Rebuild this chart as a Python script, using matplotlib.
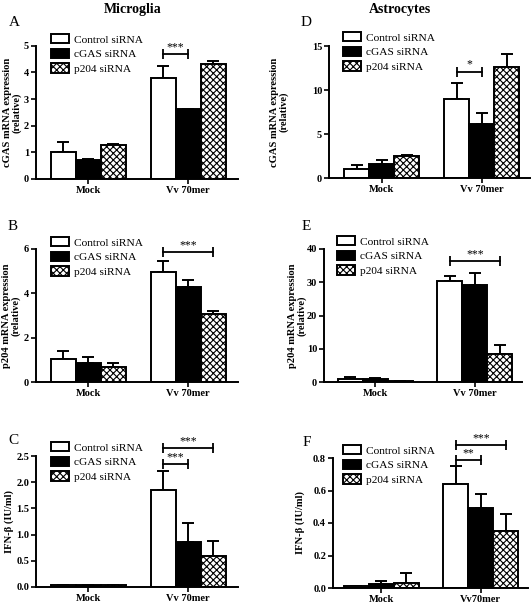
import matplotlib
matplotlib.use("Agg")
import matplotlib.pyplot as plt
import numpy as np

plt.rcParams['font.family'] = ['Liberation Serif', 'DejaVu Serif']
plt.rcParams['hatch.linewidth'] = 0.8

groups = ['Mock', 'Vv 70mer']
series = ['Control siRNA', 'cGAS siRNA', 'p204 siRNA']

# means per series: [Mock, Vv 70mer]
a_mean = {'Control siRNA': [1.03, 3.80], 'cGAS siRNA': [0.72, 2.62], 'p204 siRNA': [1.27, 4.33]}
a_err = {'Control siRNA': [0.36, 0.43], 'cGAS siRNA': [0.03, 0.02], 'p204 siRNA': [0.05, 0.09]}
b_mean = {'Control siRNA': [1.04, 4.98], 'cGAS siRNA': [0.84, 4.27], 'p204 siRNA': [0.69, 3.07]}
b_err = {'Control siRNA': [0.35, 0.46], 'cGAS siRNA': [0.29, 0.34], 'p204 siRNA': [0.17, 0.14]}
c_mean = {'Control siRNA': [0.04, 1.85], 'cGAS siRNA': [0.04, 0.85], 'p204 siRNA': [0.04, 0.60]}
c_err = {'Control siRNA': [0.0, 0.36], 'cGAS siRNA': [0.0, 0.37], 'p204 siRNA': [0.0, 0.27]}
d_mean = {'Control siRNA': [1.05, 9.00], 'cGAS siRNA': [1.62, 6.17], 'p204 siRNA': [2.45, 12.57]}
d_err = {'Control siRNA': [0.48, 1.76], 'cGAS siRNA': [0.45, 1.26], 'p204 siRNA': [0.22, 1.53]}
e_mean = {'Control siRNA': [0.9, 30.5], 'cGAS siRNA': [1.0, 29.2], 'p204 siRNA': [0.2, 8.5]}
e_err = {'Control siRNA': [0.7, 1.4], 'cGAS siRNA': [0.1, 3.6], 'p204 siRNA': [0.05, 2.7]}
f_mean = {'Control siRNA': [0.010, 0.64], 'cGAS siRNA': [0.022, 0.49], 'p204 siRNA': [0.033, 0.35]}
f_err = {'Control siRNA': [0.005, 0.11], 'cGAS siRNA': [0.02, 0.09], 'p204 siRNA': [0.06, 0.105]}

# significance brackets: (bar index from, bar index to, y, label)
a_sig = [(0, 1, 4.7, '***')]
b_sig = [(0, 2, 5.85, '***')]
c_sig = [(0, 1, 2.35, '***'), (0, 2, 2.66, '***')]
d_sig = [(0, 1, 12.1, '*')]
e_sig = [(0, 2, 36.4, '***')]
f_sig = [(0, 1, 0.785, '**'), (0, 2, 0.88, '***')]

W, H = 532, 605
fig = plt.figure(figsize=(W / 100, H / 100), dpi=100)

styles = {
    'Control siRNA': dict(color='white', hatch=None),
    'cGAS siRNA': dict(color='black', hatch=None),
    'p204 siRNA': dict(color='white', hatch='xxxxx'),
}


def panel(rect, xlim, mean, err, sig, ylim, yticks, ylabel, ylab_x, letter,
          letter_xy, leg_xy, xlabels):
    l, t, r, b = rect
    ax = fig.add_axes([l / W, 1 - b / H, (r - l) / W, (b - t) / H])
    for k, s in enumerate(series):
        x = np.array([0, 4]) + k
        ax.bar(x, mean[s], width=1.0, edgecolor='black', linewidth=1.4,
               label=s, zorder=2, **styles[s])
        ax.errorbar(x, mean[s], yerr=[np.zeros(2), err[s]], fmt='none',
                    ecolor='black', elinewidth=1.4, capsize=4, capthick=1.4,
                    zorder=1)
    for i, j, y, txt in sig:
        ax.plot([4 + i, 4 + j], [y, y], color='black', lw=1.3, marker='|',
                markersize=7, markeredgewidth=1.3, clip_on=False)
        ax.annotate(txt, ((8 + i + j) / 2, y), xytext=(0, 0.5),
                    textcoords='offset points', ha='center', va='bottom',
                    fontsize=8.5, annotation_clip=False)
    ax.set_xlim(*xlim)
    ax.set_ylim(*ylim)
    ax.set_yticks(yticks)
    ax.set_xticks([1, 5])
    ax.set_xticklabels(xlabels)
    ax.spines['top'].set_visible(False)
    ax.spines['right'].set_visible(False)
    ax.spines['left'].set_linewidth(1.4)
    ax.spines['bottom'].set_linewidth(1.4)
    ax.tick_params(width=1.2, length=3.5, labelsize=7.5, pad=1.5)
    for lab in ax.get_xticklabels() + ax.get_yticklabels():
        lab.set_fontweight('bold')
    ax.set_ylabel(ylabel, fontsize=7.6, fontweight='bold', linespacing=1.0)
    ax.yaxis.label.set_va('center')
    ax.yaxis.set_label_coords((ylab_x - l) / (r - l), 0.5)
    ax.legend(loc='upper left', bbox_to_anchor=(leg_xy[0] / W, 1 - leg_xy[1] / H),
              bbox_transform=fig.transFigure, frameon=False, fontsize=8.2,
              borderpad=0, borderaxespad=0, handlelength=1.55, handleheight=0.9,
              handletextpad=0.5, labelspacing=0.35)
    fig.text(letter_xy[0] / W, 1 - letter_xy[1] / H, letter, fontsize=11,
             ha='center', va='center')
    return ax


cgas_lab = 'cGAS mRNA expression\n(relative)'
p204_lab = 'p204 mRNA expression\n(relative)'
ifn_lab = 'IFN-β (IU/ml)'

panel((36, 45.7, 238, 179), (-1.1, 7.0), a_mean, a_err, a_sig, (0, 5),
      [0, 1, 2, 3, 4, 5], cgas_lab, 12, 'A', (14, 23), (51, 34), groups)
panel((36, 249, 238, 382), (-1.1, 7.0), b_mean, b_err, b_sig, (0, 6),
      [0, 2, 4, 6], p204_lab, 11, 'B', (13, 227), (51, 237), groups)
panel((36, 456, 238, 587), (-1.1, 7.0), c_mean, c_err, c_sig, (0, 2.5),
      [0.0, 0.5, 1.0, 1.5, 2.0, 2.5], ifn_lab, 9, 'C', (13, 441), (51, 442), groups)
panel((329, 46, 530, 178), (-1.1, 6.94), d_mean, d_err, d_sig, (0, 15),
      [0, 5, 10, 15], cgas_lab, 279, 'D', (306, 22), (343, 32), groups)
panel((324, 249, 522, 382), (-1.06, 6.9), e_mean, e_err, e_sig, (0, 40),
      [0, 10, 20, 30, 40], p204_lab, 297, 'E', (306, 226), (337, 236), groups)
panel((333, 458, 528, 588), (-0.94, 6.9), f_mean, f_err, f_sig, (0, 0.8),
      [0.0, 0.2, 0.4, 0.6, 0.8], ifn_lab, 300, 'F', (307, 443), (343, 445),
      ['Mock', 'Vv70mer'])

fig.text(133 / W, 1 - 10 / H, 'Microglia', fontsize=10, fontweight='bold',
         ha='center', va='center')
fig.text(400 / W, 1 - 10 / H, 'Astrocytes', fontsize=10, fontweight='bold',
         ha='center', va='center')

fig.savefig('out.png', dpi=100)
